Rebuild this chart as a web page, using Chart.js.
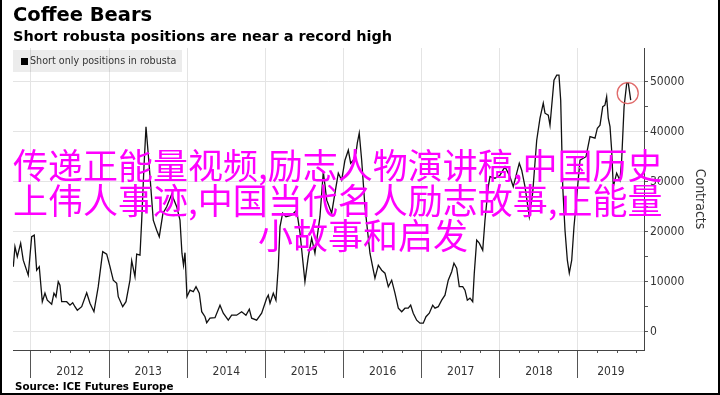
<!DOCTYPE html>
<html>
<head>
<meta charset="utf-8">
<script src="https://cdn.jsdelivr.net/npm/chart.js@4"></script>
<style>
body { margin: 0; background: #fff; }
#wrap { position: relative; width: 720px; height: 395px; overflow: hidden; font-family: "DejaVu Sans", sans-serif; }
#c { position: absolute; left: 0; top: 0; }
.abs { position: absolute; white-space: nowrap; }
#title { left: 13px; top: 3px; font-size: 19.5px; font-weight: bold; line-height: 24px; color: #000; }
#sub { left: 13px; top: 27px; font-size: 14.45px; font-weight: bold; line-height: 18px; color: #000; }
#legend { left: 13px; top: 50px; width: 169px; height: 22px; background: rgba(0,0,0,0.075); }
#legend .sq { position: absolute; left: 8px; top: 8px; width: 7px; height: 7px; background: #000; }
#legend .lt { position: absolute; left: 17px; top: 5px; font-size: 9.6px; line-height: 12px; color: #333; white-space: nowrap; }
#source { left: 15px; top: 380px; font-size: 10.3px; font-weight: bold; line-height: 13px; color: #000; }
.cn { position: absolute; white-space: nowrap; font-family: "Noto Sans CJK SC", sans-serif; font-size: 35px; line-height: 36px; height: 36px; color: #ff00ff; }
#frame { position: absolute; left: 0; top: 0; width: 720px; height: 395px; box-sizing: border-box; border: 2px solid #000; border-top: none; pointer-events: none; }
</style>
</head>
<body>
<div id="wrap">
  <canvas id="c" width="720" height="395"></canvas>
  <div id="title" class="abs">Coffee Bears</div>
  <div id="sub" class="abs">Short robusta positions are near a record high</div>
  <div id="legend" class="abs"><div class="sq"></div><div class="lt">Short only positions in robusta</div></div>
  <div id="source" class="abs">Source: ICE Futures Europe</div>
  <div class="cn" style="left:13px; top:146px;">传递正能量视频,励志人物演讲稿,中国历史</div>
  <div class="cn" style="left:13px; top:181px;">上伟人事迹,中国当代名人励志故事,正能量</div>
  <div class="cn" style="left:258px; top:216px;">小故事和启发</div>
  <div id="frame"></div>
</div>
<script>
// weekly-ish readings, dates as decimal years
var dates = [2011.774, 2011.795, 2011.825, 2011.868, 2011.901, 2011.965, 2012.009, 2012.042, 2012.073, 2012.106,
  2012.145, 2012.179, 2012.209, 2012.265, 2012.294, 2012.320, 2012.349, 2012.371, 2012.393, 2012.457,
  2012.499, 2012.534, 2012.563, 2012.593, 2012.649, 2012.713, 2012.755, 2012.806, 2012.861, 2012.918,
  2012.969, 2013.011, 2013.053, 2013.097, 2013.117, 2013.174, 2013.216, 2013.267, 2013.289, 2013.331,
  2013.353, 2013.395, 2013.417, 2013.446, 2013.472, 2013.514, 2013.565, 2013.609, 2013.642, 2013.689,
  2013.737, 2013.801, 2013.865, 2013.907, 2013.932, 2013.952, 2013.971, 2013.996, 2014.035, 2014.077,
  2014.112, 2014.154, 2014.185, 2014.227, 2014.249, 2014.291, 2014.355, 2014.419, 2014.461, 2014.525,
  2014.568, 2014.632, 2014.696, 2014.751, 2014.794, 2014.824, 2014.888, 2014.952, 2015.016, 2015.037,
  2015.059, 2015.101, 2015.135, 2015.165, 2015.187, 2015.221, 2015.263, 2015.336, 2015.400, 2015.443,
  2015.506, 2015.549, 2015.592, 2015.634, 2015.698, 2015.741, 2015.785, 2015.848, 2015.890, 2015.933,
  2015.976, 2016.018, 2016.061, 2016.091, 2016.125, 2016.159, 2016.176, 2016.201, 2016.232, 2016.274,
  2016.338, 2016.381, 2016.402, 2016.445, 2016.488, 2016.530, 2016.573, 2016.616, 2016.658, 2016.701,
  2016.744, 2016.786, 2016.828, 2016.859, 2016.892, 2016.936, 2016.978, 2017.020, 2017.055, 2017.097,
  2017.141, 2017.170, 2017.212, 2017.256, 2017.298, 2017.340, 2017.384, 2017.413, 2017.448, 2017.481,
  2017.525, 2017.554, 2017.584, 2017.618, 2017.653, 2017.673, 2017.704, 2017.737, 2017.781, 2017.810,
  2017.852, 2017.874, 2017.938, 2018.002, 2018.066, 2018.130, 2018.172, 2018.216, 2018.249, 2018.280,
  2018.322, 2018.377, 2018.420, 2018.472, 2018.514, 2018.556, 2018.578, 2018.620, 2018.642, 2018.693,
  2018.728, 2018.757, 2018.779, 2018.805, 2018.834, 2018.864, 2018.889, 2018.920, 2018.949, 2018.984,
  2019.026, 2019.103, 2019.154, 2019.218, 2019.248, 2019.282, 2019.317, 2019.345, 2019.367, 2019.388,
  2019.410, 2019.431, 2019.452, 2019.495, 2019.537, 2019.559, 2019.590, 2019.624, 2019.644, 2019.675];

var shorts = [13000, 17000, 15000, 17700, 14300, 11300, 19000, 19300, 12300, 13000,
  6000, 7700, 6300, 5500, 7700, 7000, 10000, 9300, 6000, 6000,
  5300, 5800, 5000, 4300, 5000, 7800, 5700, 4000, 9000, 16000,
  15500, 13000, 10300, 9700, 7000, 5000, 6000, 10300, 14200, 11000,
  15500, 15300, 22300, 33000, 41000, 33000, 22300, 20300, 19000, 23700,
  25000, 27500, 25000, 22300, 15700, 13300, 15800, 7000, 8300, 8000,
  9000, 7700, 4000, 3000, 1800, 2700, 2800, 5300, 3700, 2300,
  3300, 3300, 4000, 3300, 4500, 2700, 2300, 3700, 6700, 7300,
  5700, 7700, 6300, 13000, 21000, 23700, 23000, 23300, 24300, 19700,
  10000, 15000, 18700, 15700, 23000, 32000, 26300, 23700, 27700, 31700,
  30300, 34300, 36300, 33700, 34300, 35700, 37700, 39700, 34300, 25000,
  15700, 12300, 10700, 13300, 12300, 11700, 9000, 10300, 7700, 4700,
  4000, 4700, 4700, 5300, 3700, 2300, 1700, 1700, 3000, 3700,
  5300, 4700, 5000, 6300, 7300, 10300, 12000, 13700, 12700, 9000,
  9000, 8300, 6300, 6700, 6000, 11700, 18300, 17700, 16300, 22300,
  29000, 31000, 30700, 31300, 33000, 31000, 29000, 31700, 33700, 32300,
  29000, 23000, 27700, 38300, 42700, 45700, 43700, 43300, 41300, 50300,
  51300, 51300, 46300, 29000, 20300, 14300, 11700, 14300, 21000, 27000,
  34300, 35000, 39000, 38700, 40700, 41300, 45000, 45300, 47000, 42700,
  41000, 36300, 29000, 31700, 30300, 34300, 45000, 49700, 49700, 46300];

var yearTicks = [2012, 2013, 2014, 2015, 2016, 2017, 2018, 2019];
var yTicks = [0, 5000, 10000, 15000, 20000, 25000, 30000, 35000, 40000, 45000, 50000];
var xMin = 2011.77, xMax = 2019.845;
var yMin = -3660, yMax = 56740;

var points = dates.map(function (d, i) { return { x: d, y: shorts[i] }; });

// red ring round the latest peak
var ringPlugin = {
    id: 'ring',
    afterDatasetsDraw: function (chart) {
        var best = -1;
        for (var i = 0; i < dates.length; i++) {
            if (dates[i] >= 2019.5 && (best < 0 || shorts[i] > shorts[best])) best = i;
        }
        var px = chart.scales.x.getPixelForValue(dates[best]);
        var py = chart.scales.y.getPixelForValue(shorts[best]);
        var c = chart.ctx;
        c.save();
        c.strokeStyle = '#e06a6a';
        c.lineWidth = 1.3;
        c.beginPath();
        c.arc(px + 1, py + 10, 10.5, 0, Math.PI * 2);
        c.stroke();
        c.restore();
    }
};

var axisFont = { family: '"DejaVu Sans Condensed", "DejaVu Sans", sans-serif', size: 12 };

var ctx = document.getElementById('c').getContext('2d');
var chart = new Chart(ctx, {
    type: 'line',
    data: {
        datasets: [{
            data: points,
            borderColor: '#111',
            borderWidth: 1.3,
            pointRadius: 0,
            tension: 0,
            xAxisID: 'x',
            yAxisID: 'y'
        }]
    },
    options: {
        responsive: false,
        animation: false,
        layout: { padding: { top: 48, left: 13, right: 0, bottom: 0 } },
        plugins: { legend: { display: false }, tooltip: { enabled: false } },
        scales: {
            x: {
                type: 'linear', position: 'bottom', min: xMin, max: xMax, weight: 0,
                afterBuildTicks: function (s) { s.ticks = yearTicks.map(function (v) { return { value: v }; }); },
                afterFit: function (s) { s.height = 0; },
                grid: { color: '#e4e4e4', tickColor: '#555', tickLength: 28, drawOnChartArea: true },
                border: { display: true, color: '#444', width: 1 },
                ticks: { display: false }
            },
            xq: {
                type: 'linear', display: true, position: 'bottom', min: xMin, max: xMax, weight: 0,
                afterBuildTicks: function (s) {
                    var t = [];
                    yearTicks.forEach(function (y) {
                        [0.25, 0.5, 0.75].forEach(function (q) { if (y + q <= xMax) t.push({ value: y + q }); });
                    });
                    s.ticks = t;
                },
                afterFit: function (s) { s.height = 0; },
                grid: { display: true, drawOnChartArea: false, tickLength: 3, tickColor: '#555' },
                border: { display: false },
                ticks: { display: false }
            },
            xl: {
                type: 'linear', display: true, position: 'bottom', min: xMin, max: xMax, weight: 1,
                afterBuildTicks: function (s) {
                    s.ticks = yearTicks.map(function (y, i) {
                        var next = i < yearTicks.length - 1 ? yearTicks[i + 1] : xMax;
                        return { value: (y + next) / 2 };
                    });
                },
                afterFit: function (s) { s.height = 45; },
                grid: { display: false, drawTicks: false },
                border: { display: false },
                ticks: {
                    padding: 15, color: '#333', autoSkip: false, maxRotation: 0,
                    font: axisFont,
                    callback: function (v) { return String(Math.floor(v)); }
                }
            },
            y: {
                position: 'right', min: yMin, max: yMax,
                afterBuildTicks: function (s) { s.ticks = yTicks.map(function (v) { return { value: v }; }); },
                afterFit: function (s) { s.width = 76; },
                grid: {
                    color: function (c) { return c.tick && c.tick.value % 10000 === 0 ? '#e4e4e4' : 'rgba(0,0,0,0)'; },
                    tickColor: '#555', tickLength: 4
                },
                border: { display: true, color: '#444', width: 1 },
                ticks: {
                    padding: 2, color: '#333',
                    font: axisFont,
                    callback: function (v) { return v % 10000 === 0 ? String(v) : ''; }
                },
                title: {
                    display: true, text: 'Contracts', color: '#333',
                    font: { family: '"DejaVu Sans Condensed", "DejaVu Sans", sans-serif', size: 14 },
                    padding: { top: 12, bottom: 0 }
                }
            }
        }
    },
    plugins: [ringPlugin]
});
</script>
</body>
</html>
